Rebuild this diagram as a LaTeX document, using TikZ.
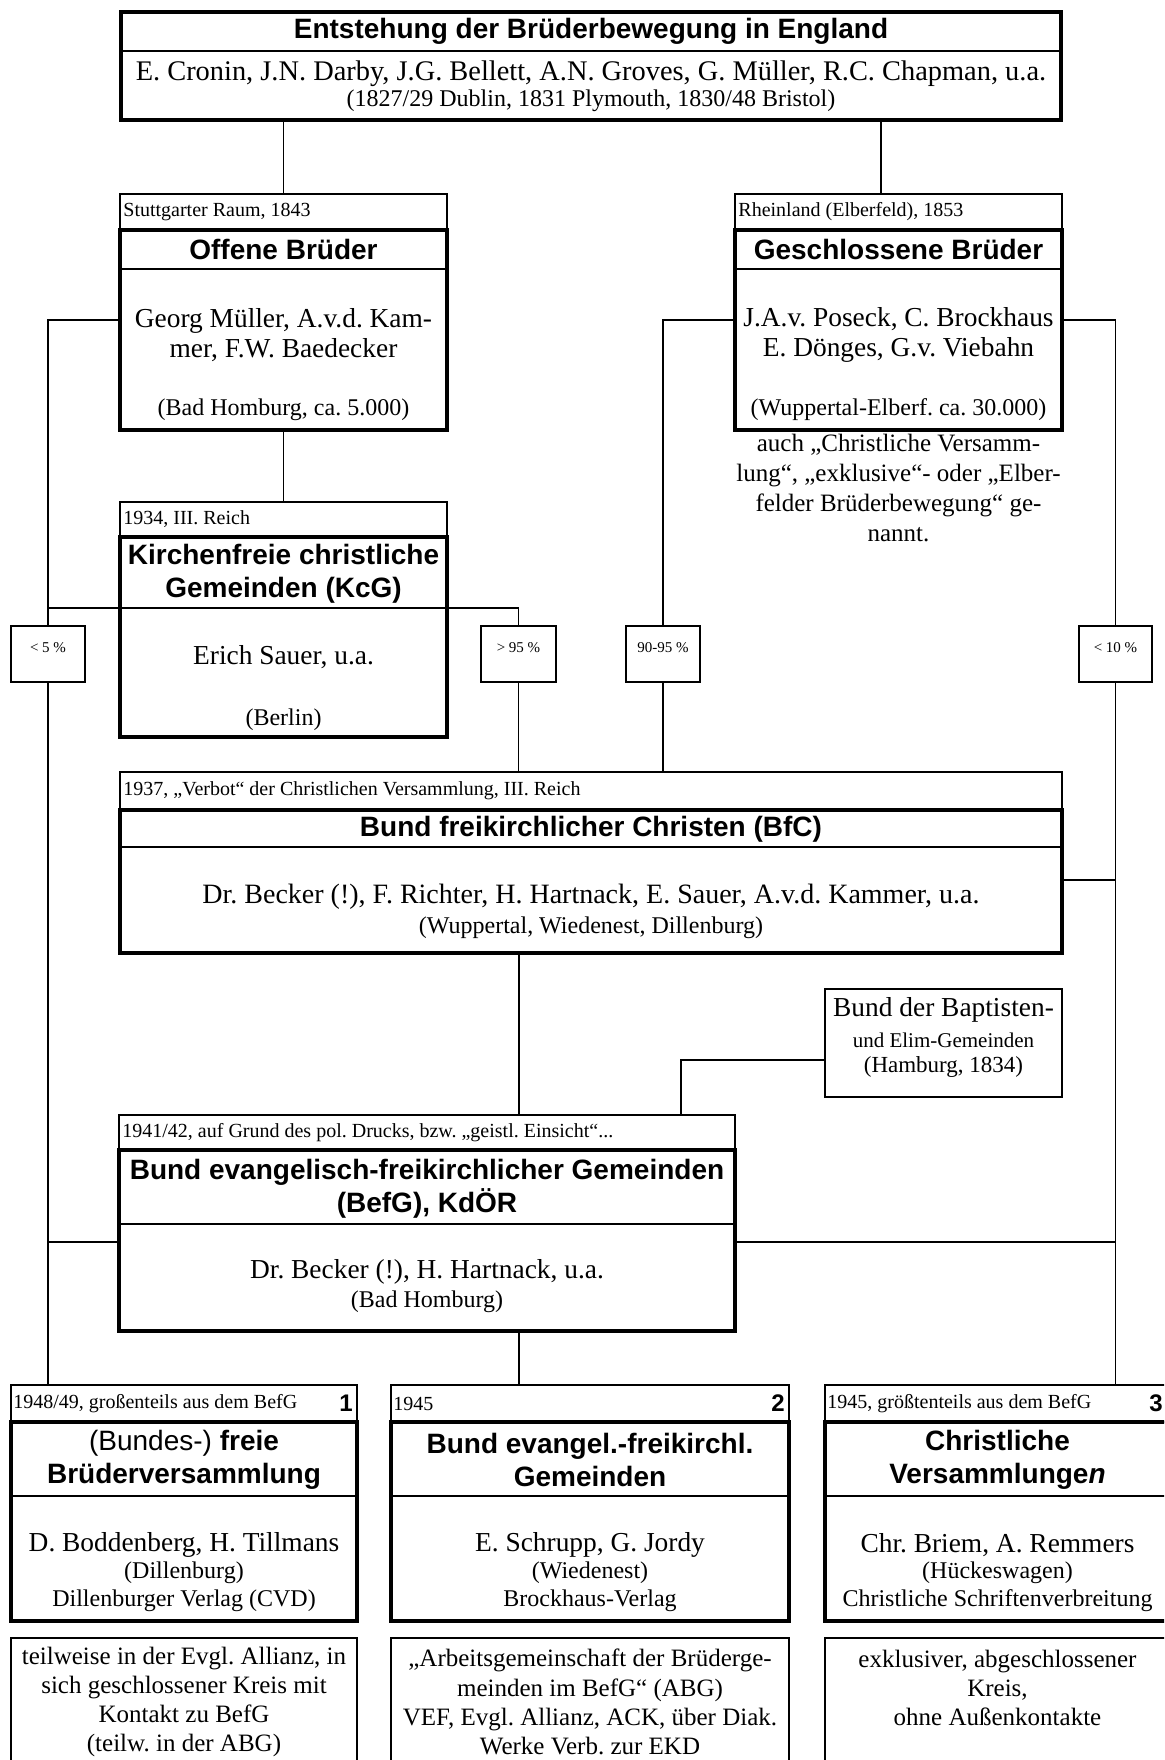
\documentclass[tikz,border=0pt]{standalone}
\usepackage{fontspec}
\setmainfont{Liberation Serif}
\newfontfamily\arialf{Liberation Sans}
\usetikzlibrary{fit}
\frenchspacing
\tikzset{
  thickbox/.style={draw, line width=1.8pt, inner sep=0pt, outer sep=0pt},
  labbox/.style={draw, line width=0.75pt, inner sep=0pt, outer sep=0pt},
  pctbox/.style={draw, line width=0.9pt, inner sep=0pt, outer sep=0pt},
  bapbox/.style={draw, line width=1.1pt, inner sep=0pt, outer sep=0pt},
  thinbox/.style={draw, line width=0.8pt, inner sep=0pt, outer sep=0pt},
  conn/.style={line width=0.8pt},
  divl/.style={line width=1.1pt},
  ttl/.style={font=\arialf\bfseries\fontsize{14}{16.5}\selectfont, align=center, inner sep=0pt},
  nm/.style={font=\fontsize{13.7}{15}\selectfont, align=center, inner sep=0pt},
  prn/.style={font=\fontsize{12}{14}\selectfont, align=center, inner sep=0pt},
  lab/.style={font=\fontsize{10}{12}\selectfont, anchor=west, inner sep=0pt},
  pct/.style={font=\fontsize{7.5}{9}\selectfont, inner sep=0pt},
  dsc/.style={font=\fontsize{12.5}{14.6}\selectfont, align=center, inner sep=0pt},
  num/.style={font=\arialf\bfseries\fontsize{12}{14}\selectfont, anchor=east, inner sep=0pt},
}
\begin{document}
\frenchspacing
\begin{tikzpicture}[x=0.5pt,y=-0.5pt]
\useasboundingbox (0,0) rectangle (1164,1760);
\clip (0,0) rectangle (1164,1760);
\fill[white] (0,0) rectangle (1164,1760);

% ---------- top box
\node[thickbox, fit={(121,12) (1061,120)}] (eng) {};
\draw[divl] (eng.west |- 0,50.7) -- (eng.east |- 0,50.7);
\node[ttl] (engT) at (591,31) {Entstehung der Brüderbewegung in England};
\node[nm, font=\fontsize{14.2}{16}\selectfont] (engN) at (591,74) {E. Cronin, J.N. Darby, J.G. Bellett, A.N. Groves, G. Müller, R.C. Chapman, u.a.};
\node[prn] (engP) at (591,101) {(1827/29 Dublin, 1831 Plymouth, 1830/48 Bristol)};

% ---------- Offene Brueder
\node[labbox, fit={(120,194) (447,230)}] (offL) {};
\node[lab] (offLt) at (123,212) {Stuttgarter Raum, 1843};
\node[thickbox, fit={(120,230) (447,430)}] (off) {};
\draw[divl] (off.west |- 0,269) -- (off.east |- 0,269);
\node[ttl] (offT) at (283.5,249.5) {Offene Brüder};
\node[nm] (offN) at (283.5,335) {Georg Müller, A.v.d. Kam-\\mer, F.W. Baedecker};
\node[prn] (offP) at (283.5,410) {(Bad Homburg, ca. 5.000)};

% ---------- Geschlossene Brueder
\node[labbox, fit={(735,194) (1062,230)}] (gesL) {};
\node[lab] (gesLt) at (738,212) {Rheinland (Elberfeld), 1853};
\node[thickbox, fit={(735,230) (1062,430)}] (ges) {};
\draw[divl] (ges.west |- 0,269) -- (ges.east |- 0,269);
\node[ttl] (gesT) at (898.5,249.5) {Geschlossene Brüder};
\node[nm] (gesN) at (898.5,335) {J.A.v. Poseck, C. Brockhaus\\E. Dönges, G.v. Viebahn};
\node[prn] (gesP) at (898.5,410) {(Wuppertal-Elberf. ca. 30.000)};
\node[dsc, font=\fontsize{12.5}{15}\selectfont] (gesD) at (898.5,488) {auch „Christliche Versamm-\\lung“, „exklusive“- oder „Elber-\\felder Brüderbewegung“ ge-\\nannt.};

% ---------- KcG
\node[labbox, fit={(120,502) (447,537)}] (kcgL) {};
\node[lab] (kcgLt) at (123,519.5) {1934, III. Reich};
\node[thickbox, fit={(120,537) (447,737)}] (kcg) {};
\node[ttl] (kcgT) at (283.5,574) {Kirchenfreie christliche\\Gemeinden (KcG)};
\node[nm] (kcgN) at (283.5,657) {Erich Sauer, u.a.};
\node[prn] (kcgP) at (283.5,720) {(Berlin)};

% ---------- percentage boxes
\node[pctbox, fit={(11,626) (85,682)}] (p5) {};
\node[pct] (p5t) at (48,648) {< 5 \%};
\node[pctbox, fit={(481,626) (556,682)}] (p95) {};
\node[pct] (p95t) at (518.5,648) {> 95 \%};
\node[pctbox, fit={(626,626) (700,682)}] (p9095) {};
\node[pct] (p9095t) at (663,648) {90-95 \%};
\node[pctbox, fit={(1079,626) (1152,682)}] (p10) {};
\node[pct] (p10t) at (1115.5,648) {< 10 \%};

% ---------- BfC
\node[labbox, fit={(120,772) (1062,810)}] (bfcL) {};
\node[lab] (bfcLt) at (123,791) {1937, „Verbot“ der Christlichen Versammlung, III. Reich};
\node[thickbox, fit={(120,810) (1062,953)}] (bfc) {};
\draw[divl] (bfc.west |- 0,847) -- (bfc.east |- 0,847);
\node[ttl] (bfcT) at (591,829) {Bund freikirchlicher Christen (BfC)};
\node[nm, font=\fontsize{14}{16}\selectfont] (bfcN) at (591,897) {Dr. Becker (!), F. Richter, H. Hartnack, E. Sauer, A.v.d. Kammer, u.a.};
\node[prn] (bfcP) at (591,928) {(Wuppertal, Wiedenest, Dillenburg)};

% ---------- Baptisten
\node[bapbox, fit={(825,989) (1062,1097)}] (bap) {};
\node[nm] (bapA) at (943.5,1010) {Bund der Baptisten-};
\node[inner sep=0pt, font=\fontsize{10.5}{12}\selectfont] (bapB) at (943.5,1040) {und Elim-Gemeinden};
\node[prn, font=\fontsize{11.5}{13}\selectfont] (bapC) at (943.5,1067) {(Hamburg, 1834)};

% ---------- BefG
\node[labbox, fit={(119,1115) (735,1150)}] (befL) {};
\node[lab] (befLt) at (122,1132.5) {1941/42, auf Grund des pol. Drucks, bzw. „geistl. Einsicht“...};
\node[thickbox, fit={(119,1150) (735,1331)}] (bef) {};
\draw[divl] (bef.west |- 0,1224) -- (bef.east |- 0,1224);
\node[ttl] (befT) at (427,1189) {Bund evangelisch-freikirchlicher Gemeinden\\(BefG), KdÖR};
\node[nm] (befN) at (427,1272) {Dr. Becker (!), H. Hartnack, u.a.};
\node[prn] (befP) at (427,1302) {(Bad Homburg)};

% ---------- bottom row, box 1
\node[labbox, fit={(11,1385) (357,1422)}] (b1L) {};
\node[lab] (b1Lt) at (13,1403.5) {1948/49, großenteils aus dem BefG};
\node[num] (b1n) at (353,1403.5) {1};
\node[thickbox, fit={(11,1422) (357,1621)}] (b1) {};
\draw[divl] (b1.west |- 0,1496) -- (b1.east |- 0,1496);
\node[ttl] (b1T) at (184,1460) {{\mdseries (Bundes-)} freie\\Brüderversammlung};
\node[nm] (b1N) at (184,1545) {D. Boddenberg, H. Tillmans};
\node[prn] (b1P) at (184,1573) {(Dillenburg)};
\node[prn] (b1V) at (184,1601) {Dillenburger Verlag (CVD)};

% box 2
\node[labbox, fit={(391,1385) (789,1422)}] (b2L) {};
\node[lab] (b2Lt) at (393,1403.5) {1945};
\node[num] (b2n) at (785,1403.5) {2};
\node[thickbox, fit={(391,1422) (789,1621)}] (b2) {};
\draw[divl] (b2.west |- 0,1496) -- (b2.east |- 0,1496);
\node[ttl] (b2T) at (590,1460) {Bund evangel.-freikirchl.\\Gemeinden};
\node[nm] (b2N) at (590,1545) {E. Schrupp, G. Jordy};
\node[prn] (b2P) at (590,1573) {(Wiedenest)};
\node[prn] (b2V) at (590,1601) {Brockhaus-Verlag};

% box 3
\node[labbox, fit={(825,1385) (1170,1422)}] (b3L) {};
\node[lab] (b3Lt) at (827,1403.5) {1945, größtenteils aus dem BefG};
\node[num] (b3n) at (1163,1403.5) {3};
\node[thickbox, fit={(825,1422) (1170,1621)}] (b3) {};
\draw[divl] (b3.west |- 0,1496) -- (b3.east |- 0,1496);
\node[ttl] (b3T) at (997.5,1460) {Christliche\\Versammlunge\textit{n}};
\node[nm] (b3N) at (997.5,1545) {Chr. Briem, A. Remmers};
\node[prn] (b3P) at (997.5,1573) {(Hückeswagen)};
\node[prn] (b3V) at (997.5,1601) {Christliche Schriftenverbreitung};

% ---------- description boxes
\node[thinbox, fit={(11,1638) (357,1800)}] (d1) {};
\node[dsc] (d1t) at (184,1702) {teilweise in der Evgl. Allianz, in\\sich geschlossener Kreis mit\\Kontakt zu BefG\\(teilw. in der ABG)};
\node[thinbox, fit={(391,1638) (789,1800)}] (d2) {};
\node[dsc] (d2t) at (590,1702) {„Arbeitsgemeinschaft der Brüderge-\\meinden im BefG“ (ABG)\\VEF, Evgl. Allianz, ACK, über Diak.\\Werke Verb. zur EKD};
\node[thinbox, fit={(825,1638) (1170,1800)}] (d3) {};
\node[dsc] (d3t) at (997.5,1688) {exklusiver, abgeschlossener\\Kreis,\\ohne Außenkontakte};

% ---------- connectors
\coordinate (cx2) at (881,0);
\coordinate (cx5) at (519,0);
\coordinate (cx6) at (681,0);
\draw[conn] (eng.south -| offL.north) -- (offL.north);
\draw[conn] (eng.south -| cx2) -- (gesL.north -| cx2);
\draw[conn] (off.south) -- (kcgL.north);
\draw[conn] (off.west |- 0,320) -| (p5.north);
\draw[conn] (p5.south) -- (b1L.north -| p5.south);
\draw[conn] (p5.north |- 0,608) -- (kcg.west |- 0,608);
\draw[divl] (kcg.west |- 0,608) -- (kcg.east |- 0,608);
\draw[conn] (kcg.east |- 0,608) -| (p95.north);
\draw[conn] (p95.south) -- (bfcL.north -| p95.south);
\draw[conn] (ges.west |- 0,320) -| (p9095.north);
\draw[conn] (p9095.south) -- (bfcL.north -| p9095.south);
\draw[conn] (ges.east |- 0,320) -| (p10.north);
\draw[conn] (p10.south) -- (b3L.north -| p10.south);
\draw[conn] (bfc.east |- 0,880) -- (p10.south |- 0,880);
\draw[conn] (bfc.south -| cx5) -- (befL.north -| cx5);
\draw[conn] (bap.west |- 0,1060) -| (befL.north -| cx6);
\draw[conn] (bef.west |- 0,1242) -- (p5.south |- 0,1242);
\draw[conn] (bef.east |- 0,1242) -- (p10.south |- 0,1242);
\draw[conn] (bef.south -| cx5) -- (b2L.north -| cx5);
\end{tikzpicture}
\end{document}
